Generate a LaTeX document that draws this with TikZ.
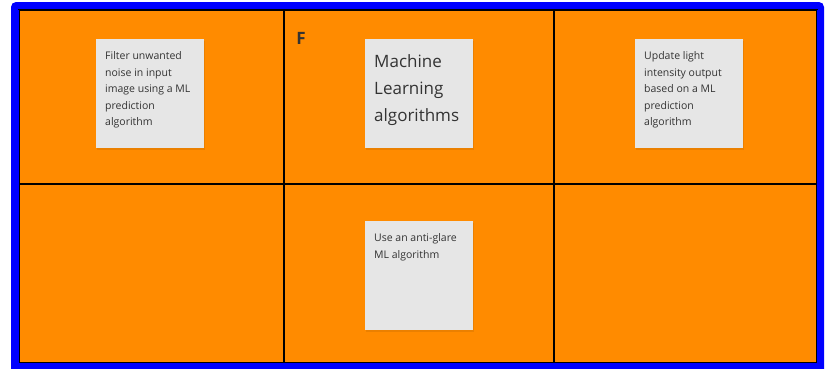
\documentclass[tikz,border=0pt]{standalone}
\usepackage{fontspec}
\setmainfont{Open Sans}
\usepackage{tikz}
\usetikzlibrary{positioning}
\definecolor{frameblue}{RGB}{0,0,255}
\definecolor{cellorange}{RGB}{255,139,0}
\definecolor{notegray}{RGB}{230,230,230}
\definecolor{notetext}{RGB}{51,51,51}
\newcommand{\cell}[5]{\node(#1)[cell,minimum width={(#4-#2)*1pt},minimum height={(#5-#3)*1pt}]
  at ({(#2+#4)/2},{(#3+#5)/2}){}}
\newcommand{\sticky}[4]{\node(#1)[note] at (#2,#3){\parbox[t][91pt][t]{90pt}{\raggedright\hyphenpenalty=10000\strut #4}}}

\begin{document}
\begin{tikzpicture}[
        x=1pt,y=-1pt,
        every node/.style={font=\fontsize{10.5}{16.5}\selectfont,text=notetext},
        cell/.style={rectangle,fill=cellorange,draw=black,line width=1.4pt,inner sep=0pt},
        note/.style={rectangle,fill=notegray,anchor=north west,minimum width=108pt,
                     inner xsep=9pt,inner ysep=9pt},
        shadow/.style={fill=black,opacity=0.08}
      ]
      \useasboundingbox (0,0) rectangle (825,368);
      % frame
      \fill[frameblue,rounded corners=5pt] (11,2) rectangle (824,375);
      \fill[cellorange] (19,10) rectangle (817,363);
      % grid
      \cell{c11}{19}{10}{284}{184};
      \cell{c12}{284}{10}{554}{184};
      \cell{c13}{554}{10}{817}{184};
      \cell{c21}{19}{184}{284}{363};
      \cell{c22}{284}{184}{554}{363};
      \cell{c23}{554}{184}{817}{363};
      \fill[frameblue] (11,363) rectangle (824,375);
      \fill[frameblue] (817,10) rectangle (824,363);
      \fill[frameblue] (11,10) rectangle (19,363);

      \node(tag)[font=\fontsize{17}{17}\selectfont\bfseries] at (301,38.5){F};

      % shadows
      \foreach \x/\y in {96/39,365/39,635/39,365/221}
        \fill[shadow] (\x+1,\y+2) rectangle (\x+109,\y+111);

      \sticky{n1}{96}{39}{Filter unwanted noise in input image using a ML prediction algorithm};
      \sticky{n2}{365}{39}{\fontsize{17}{27}\selectfont\strut Machine Learning algorithms};
      \sticky{n3}{635}{39}{Update light intensity output based on a ML prediction algorithm};
      \sticky{n4}{365}{221}{Use an anti-glare ML algorithm};
    \end{tikzpicture}
\end{document}
